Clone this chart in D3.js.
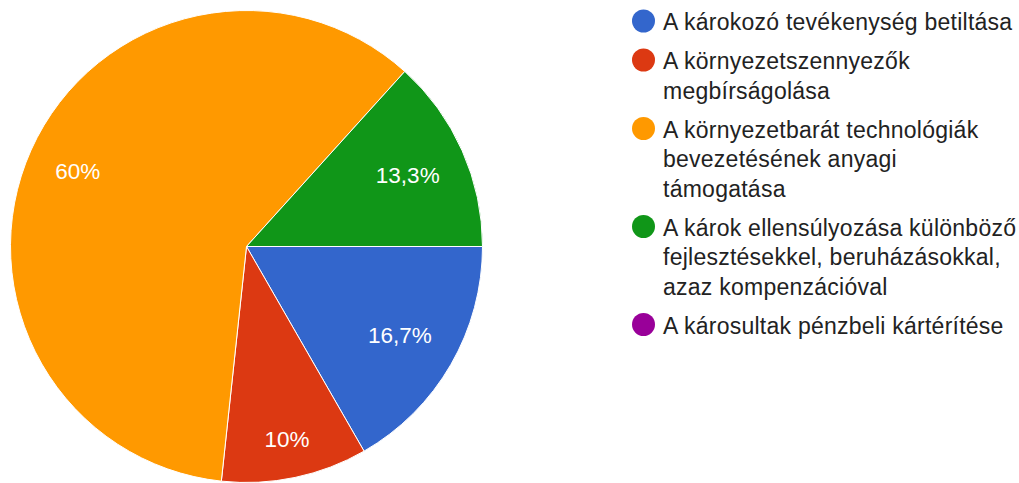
<!DOCTYPE html>
<html>
<head>
<meta charset="utf-8">
<script src="https://cdn.jsdelivr.net/npm/d3@7"></script>
<style>
  body { margin: 0; background: #fff; }
  svg { display: block; font-family: Arial, "Liberation Sans", sans-serif; }
</style>
</head>
<body>
<svg id="chart"></svg>
<script>
const WIDTH = 1019
const HEIGHT = 483

// answer options (legend text, already broken into lines as shown)
const categories = [
    ['A károkozó tevékenység betiltása'],
    ['A környezetszennyezők', 'megbírságolása'],
    ['A környezetbarát technológiák', 'bevezetésének anyagi', 'támogatása'],
    ['A károk ellensúlyozása különböző', 'fejlesztésekkel, beruházásokkal,', 'azaz kompenzációval'],
    ['A károsultak pénzbeli kártérítése']
]
// share of answers, percent
const percents = [16.7, 10, 60, 13.3, 0]
const colors = ['#3366cc', '#dc3912', '#ff9900', '#109618', '#990099']

const data = percents.map((v, i) => ({ value: v, lines: categories[i], color: colors[i] }))

const cx = 246.5
const cy = 246.5
const radius = 236
const labelSize = 22.5

const svg = d3.select('#chart')
    .attr('width', WIDTH)
    .attr('height', HEIGHT)

const fmt = v => d3.format('.1f')(v).replace(/\.0$/, '').replace('.', ',') + '%'

const pie = d3.pie()
    .sort(null)
    .value(d => d.value)
    .startAngle(Math.PI / 2)
    .endAngle(Math.PI / 2 + 2 * Math.PI)

const arc = d3.arc().innerRadius(0).outerRadius(radius)

const g = svg.append('g')
    .attr('transform', `translate(${cx}, ${cy})`)

const arcs = pie(data).filter(d => d.value > 0)

g.selectAll('path')
    .data(arcs)
    .join('path')
    .attr('d', arc)
    .attr('fill', d => d.data.color)
    .attr('stroke', '#fff')
    .attr('stroke-width', 1)

// labels sit along the mid angle, pushed out until the text box reaches labelR
const labelR = radius * 0.885
const capH = labelSize * 0.716

g.selectAll('text.label')
    .data(arcs)
    .join('text')
    .attr('class', 'label')
    .attr('fill', '#fff')
    .attr('font-size', labelSize)
    .attr('text-anchor', 'middle')
    .text(d => fmt(d.data.value))
    .each(function (d) {
        const w = this.getComputedTextLength()
        const a = (d.startAngle + d.endAngle) / 2
        const ux = Math.sin(a)
        const uy = -Math.cos(a)
        const dist = labelR - (w / 2) * Math.abs(ux) - (capH / 2) * Math.abs(uy)
        d3.select(this)
            .attr('x', dist * ux)
            .attr('y', dist * uy + capH / 2)
    })

// legend
const lineH = 29.5
const gap = 9.5
const legendX = 643.5
let yPos = 21

const legend = svg.append('g')

data.forEach(d => {
    const item = legend.append('g')
    item.append('circle')
        .attr('cx', legendX)
        .attr('cy', yPos)
        .attr('r', 11.5)
        .attr('fill', d.color)
    item.append('text')
        .attr('fill', '#222')
        .attr('font-size', 23)
        .attr('letter-spacing', 0.25)
        .selectAll('tspan')
        .data(d.lines)
        .join('tspan')
        .attr('x', 663)
        .attr('y', (l, i) => yPos + 9 + i * lineH)
        .text(l => l)
    yPos += d.lines.length * lineH + gap
})
</script>
</body>
</html>
